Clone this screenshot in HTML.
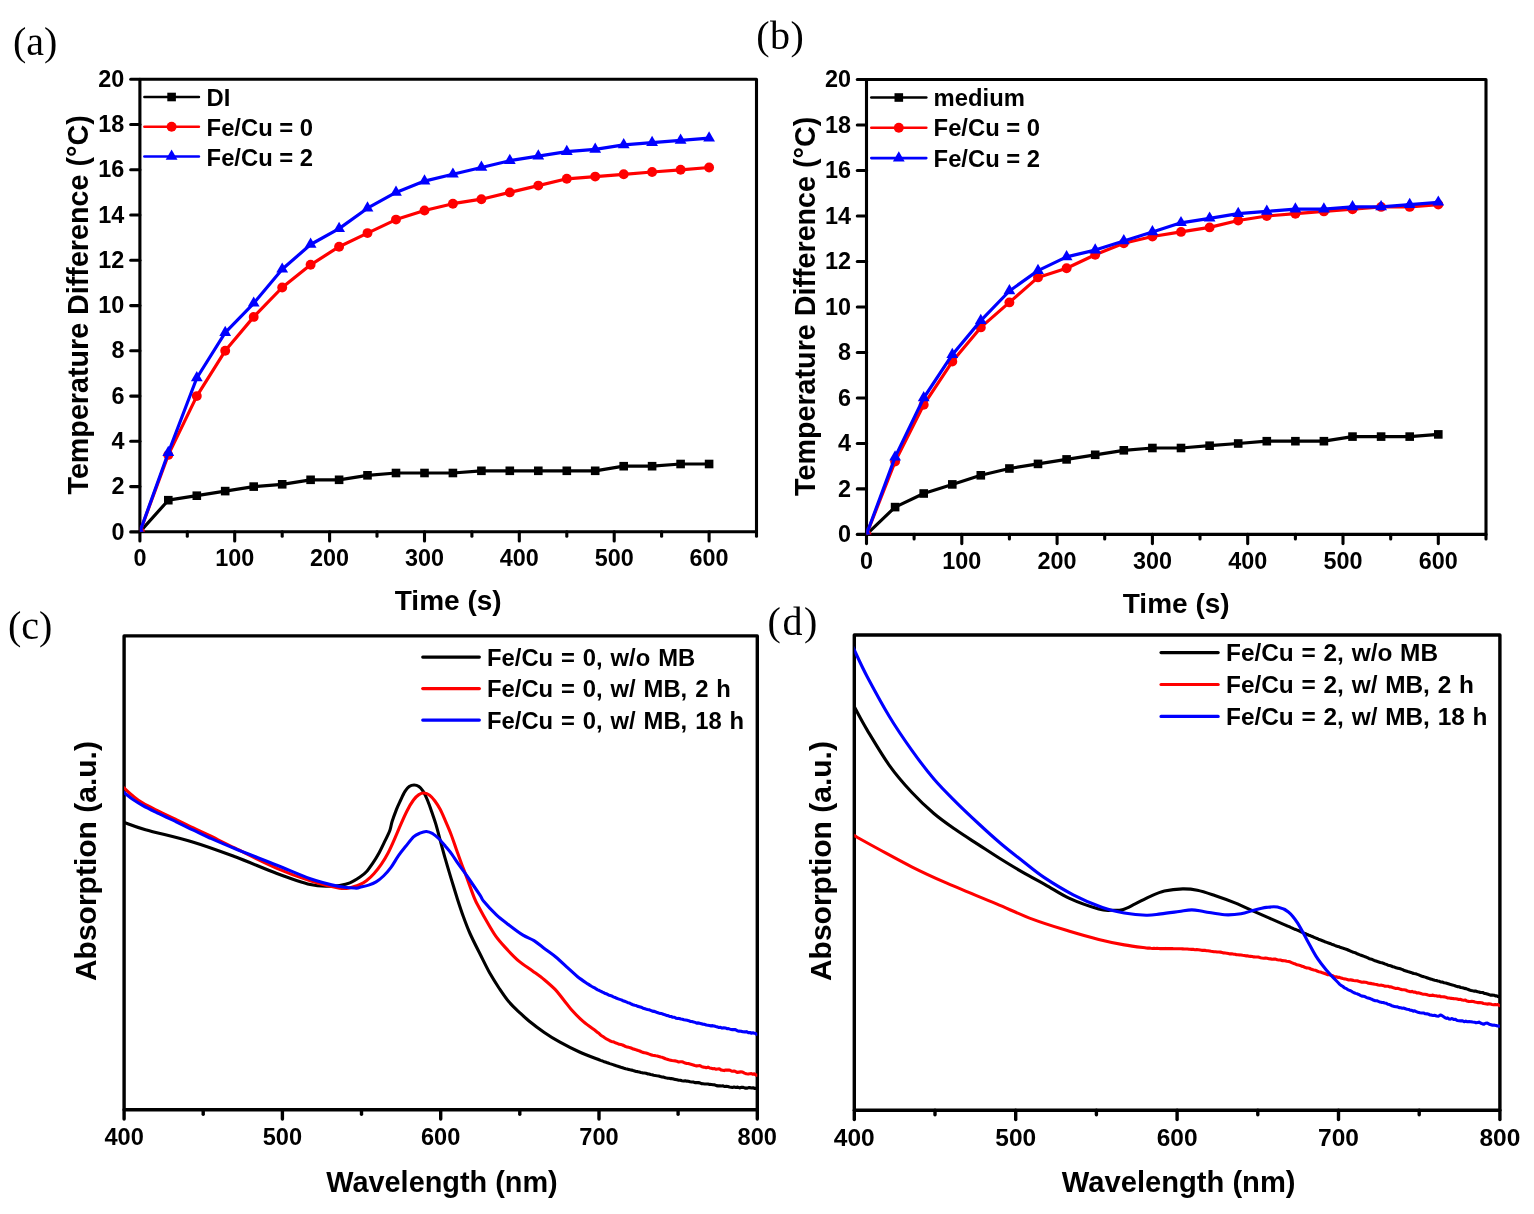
<!DOCTYPE html>
<html lang="en"><head><meta charset="utf-8"><title>Figure</title>
<style>
html,body{margin:0;padding:0;background:#fff;}
svg{display:block;}
text{fill:#000;}
.t{stroke:#000;stroke-width:3.4;stroke-linecap:round;}
.ta{stroke:#000;stroke-width:3.1;stroke-linecap:round;}
.tk{font-family:"Liberation Sans", Arial, Helvetica, sans-serif;font-weight:700;font-size:23.4px;}
.tk2{font-family:"Liberation Sans", Arial, Helvetica, sans-serif;font-weight:700;font-size:23.6px;}
.lg{font-family:"Liberation Sans", Arial, Helvetica, sans-serif;font-weight:700;font-size:23.8px;}
.lg2{font-family:"Liberation Sans", Arial, Helvetica, sans-serif;font-weight:700;font-size:23.8px;word-spacing:1.3px;}
.lg3{font-family:"Liberation Sans", Arial, Helvetica, sans-serif;font-weight:700;font-size:24.4px;word-spacing:1.0px;}
.ax{font-family:"Liberation Sans", Arial, Helvetica, sans-serif;font-weight:700;font-size:28px;}
.ay{font-family:"Liberation Sans", Arial, Helvetica, sans-serif;font-weight:700;font-size:28.7px;}
.ax2{font-family:"Liberation Sans", Arial, Helvetica, sans-serif;font-weight:700;font-size:28.85px;}
.ax3{font-family:"Liberation Sans", Arial, Helvetica, sans-serif;font-weight:700;font-size:29.15px;}
.ay2{font-family:"Liberation Sans", Arial, Helvetica, sans-serif;font-weight:700;font-size:30px;}
.tk3{font-family:"Liberation Sans", Arial, Helvetica, sans-serif;font-weight:700;font-size:24.5px;}
.pl{font-family:"Liberation Serif", "Times New Roman", serif;font-size:40px;}
</style></head><body>
<svg width="1534" height="1214" viewBox="0 0 1534 1214">
<rect width="1534" height="1214" fill="#fff"/>
<g>
<rect x="139.9" y="79.2" width="616.6" height="452.6" fill="none" stroke="#000" stroke-width="3.1" stroke-linejoin="round"/>
<line x1="130.7" y1="531.9" x2="139.9" y2="531.9" class="ta"/>
<text x="124.4" y="539.5" text-anchor="end" class="tk">0</text>
<line x1="130.7" y1="486.6" x2="139.9" y2="486.6" class="ta"/>
<text x="124.4" y="494.2" text-anchor="end" class="tk">2</text>
<line x1="130.7" y1="441.3" x2="139.9" y2="441.3" class="ta"/>
<text x="124.4" y="448.9" text-anchor="end" class="tk">4</text>
<line x1="130.7" y1="396.1" x2="139.9" y2="396.1" class="ta"/>
<text x="124.4" y="403.7" text-anchor="end" class="tk">6</text>
<line x1="130.7" y1="350.8" x2="139.9" y2="350.8" class="ta"/>
<text x="124.4" y="358.4" text-anchor="end" class="tk">8</text>
<line x1="130.7" y1="305.6" x2="139.9" y2="305.6" class="ta"/>
<text x="124.4" y="313.2" text-anchor="end" class="tk">10</text>
<line x1="130.7" y1="260.3" x2="139.9" y2="260.3" class="ta"/>
<text x="124.4" y="267.9" text-anchor="end" class="tk">12</text>
<line x1="130.7" y1="215" x2="139.9" y2="215" class="ta"/>
<text x="124.4" y="222.6" text-anchor="end" class="tk">14</text>
<line x1="130.7" y1="169.8" x2="139.9" y2="169.8" class="ta"/>
<text x="124.4" y="177.4" text-anchor="end" class="tk">16</text>
<line x1="130.7" y1="124.5" x2="139.9" y2="124.5" class="ta"/>
<text x="124.4" y="132.1" text-anchor="end" class="tk">18</text>
<line x1="130.7" y1="79.2" x2="139.9" y2="79.2" class="ta"/>
<text x="124.4" y="86.8" text-anchor="end" class="tk">20</text>
<line x1="139.9" y1="531.9" x2="139.9" y2="541" class="ta"/>
<text x="139.9" y="566.1" text-anchor="middle" class="tk">0</text>
<line x1="187.3" y1="531.9" x2="187.3" y2="536.3" class="ta"/>
<line x1="234.7" y1="531.9" x2="234.7" y2="541" class="ta"/>
<text x="234.7" y="566.1" text-anchor="middle" class="tk">100</text>
<line x1="282.2" y1="531.9" x2="282.2" y2="536.3" class="ta"/>
<line x1="329.6" y1="531.9" x2="329.6" y2="541" class="ta"/>
<text x="329.6" y="566.1" text-anchor="middle" class="tk">200</text>
<line x1="377" y1="531.9" x2="377" y2="536.3" class="ta"/>
<line x1="424.5" y1="531.9" x2="424.5" y2="541" class="ta"/>
<text x="424.5" y="566.1" text-anchor="middle" class="tk">300</text>
<line x1="471.9" y1="531.9" x2="471.9" y2="536.3" class="ta"/>
<line x1="519.3" y1="531.9" x2="519.3" y2="541" class="ta"/>
<text x="519.3" y="566.1" text-anchor="middle" class="tk">400</text>
<line x1="566.8" y1="531.9" x2="566.8" y2="536.3" class="ta"/>
<line x1="614.2" y1="531.9" x2="614.2" y2="541" class="ta"/>
<text x="614.2" y="566.1" text-anchor="middle" class="tk">500</text>
<line x1="661.6" y1="531.9" x2="661.6" y2="536.3" class="ta"/>
<line x1="709.1" y1="531.9" x2="709.1" y2="541" class="ta"/>
<text x="709.1" y="566.1" text-anchor="middle" class="tk">600</text>
<line x1="756.5" y1="531.9" x2="756.5" y2="536.3" class="ta"/>
<clipPath id="ca"><rect x="139.9" y="79.2" width="616.6" height="452.6"/></clipPath>
<g clip-path="url(#ca)">
<polyline points="139.9,531.9 168.3,500.2 196.8,495.7 225.2,491.1 253.7,486.6 282.2,484.3 310.6,479.8 339.1,479.8 367.5,475.3 396,473 424.5,473 452.9,473 481.4,470.8 509.8,470.8 538.3,470.8 566.8,470.8 595.2,470.8 623.7,466.2 652.1,466.2 680.6,464 709.1,464" fill="none" stroke="#000000" stroke-width="3.2" stroke-linejoin="round" stroke-linecap="round"/>
<rect x="135.6" y="527.6" width="8.6" height="8.6" fill="#000000"/>
<rect x="164" y="495.9" width="8.6" height="8.6" fill="#000000"/>
<rect x="192.5" y="491.4" width="8.6" height="8.6" fill="#000000"/>
<rect x="220.9" y="486.8" width="8.6" height="8.6" fill="#000000"/>
<rect x="249.4" y="482.3" width="8.6" height="8.6" fill="#000000"/>
<rect x="277.9" y="480" width="8.6" height="8.6" fill="#000000"/>
<rect x="306.3" y="475.5" width="8.6" height="8.6" fill="#000000"/>
<rect x="334.8" y="475.5" width="8.6" height="8.6" fill="#000000"/>
<rect x="363.2" y="471" width="8.6" height="8.6" fill="#000000"/>
<rect x="391.7" y="468.7" width="8.6" height="8.6" fill="#000000"/>
<rect x="420.2" y="468.7" width="8.6" height="8.6" fill="#000000"/>
<rect x="448.6" y="468.7" width="8.6" height="8.6" fill="#000000"/>
<rect x="477.1" y="466.5" width="8.6" height="8.6" fill="#000000"/>
<rect x="505.5" y="466.5" width="8.6" height="8.6" fill="#000000"/>
<rect x="534" y="466.5" width="8.6" height="8.6" fill="#000000"/>
<rect x="562.5" y="466.5" width="8.6" height="8.6" fill="#000000"/>
<rect x="590.9" y="466.5" width="8.6" height="8.6" fill="#000000"/>
<rect x="619.4" y="461.9" width="8.6" height="8.6" fill="#000000"/>
<rect x="647.8" y="461.9" width="8.6" height="8.6" fill="#000000"/>
<rect x="676.3" y="459.7" width="8.6" height="8.6" fill="#000000"/>
<rect x="704.8" y="459.7" width="8.6" height="8.6" fill="#000000"/>
<polyline points="139.9,531.9 168.3,454.9 196.8,396.1 225.2,350.8 253.7,316.9 282.2,287.5 310.6,264.8 339.1,246.7 367.5,233.1 396,219.6 424.5,210.5 452.9,203.7 481.4,199.2 509.8,192.4 538.3,185.6 566.8,178.8 595.2,176.6 623.7,174.3 652.1,172 680.6,169.8 709.1,167.5" fill="none" stroke="#ff0000" stroke-width="3.2" stroke-linejoin="round" stroke-linecap="round"/>
<circle cx="139.9" cy="531.9" r="4.95" fill="#ff0000"/>
<circle cx="168.3" cy="454.9" r="4.95" fill="#ff0000"/>
<circle cx="196.8" cy="396.1" r="4.95" fill="#ff0000"/>
<circle cx="225.2" cy="350.8" r="4.95" fill="#ff0000"/>
<circle cx="253.7" cy="316.9" r="4.95" fill="#ff0000"/>
<circle cx="282.2" cy="287.5" r="4.95" fill="#ff0000"/>
<circle cx="310.6" cy="264.8" r="4.95" fill="#ff0000"/>
<circle cx="339.1" cy="246.7" r="4.95" fill="#ff0000"/>
<circle cx="367.5" cy="233.1" r="4.95" fill="#ff0000"/>
<circle cx="396" cy="219.6" r="4.95" fill="#ff0000"/>
<circle cx="424.5" cy="210.5" r="4.95" fill="#ff0000"/>
<circle cx="452.9" cy="203.7" r="4.95" fill="#ff0000"/>
<circle cx="481.4" cy="199.2" r="4.95" fill="#ff0000"/>
<circle cx="509.8" cy="192.4" r="4.95" fill="#ff0000"/>
<circle cx="538.3" cy="185.6" r="4.95" fill="#ff0000"/>
<circle cx="566.8" cy="178.8" r="4.95" fill="#ff0000"/>
<circle cx="595.2" cy="176.6" r="4.95" fill="#ff0000"/>
<circle cx="623.7" cy="174.3" r="4.95" fill="#ff0000"/>
<circle cx="652.1" cy="172" r="4.95" fill="#ff0000"/>
<circle cx="680.6" cy="169.8" r="4.95" fill="#ff0000"/>
<circle cx="709.1" cy="167.5" r="4.95" fill="#ff0000"/>
<polyline points="139.9,531.9 168.3,452.7 196.8,378 225.2,332.7 253.7,303.3 282.2,269.3 310.6,244.5 339.1,228.6 367.5,208.2 396,192.4 424.5,181.1 452.9,174.3 481.4,167.5 509.8,160.7 538.3,156.2 566.8,151.7 595.2,149.4 623.7,144.9 652.1,142.6 680.6,140.4 709.1,138.1" fill="none" stroke="#0000ff" stroke-width="3.2" stroke-linejoin="round" stroke-linecap="round"/>
<polygon points="139.9,525 134,535.2 145.8,535.2" fill="#0000ff"/>
<polygon points="168.3,445.8 162.4,456 174.2,456" fill="#0000ff"/>
<polygon points="196.8,371.1 190.9,381.3 202.7,381.3" fill="#0000ff"/>
<polygon points="225.2,325.8 219.3,336 231.1,336" fill="#0000ff"/>
<polygon points="253.7,296.4 247.8,306.6 259.6,306.6" fill="#0000ff"/>
<polygon points="282.2,262.4 276.3,272.6 288.1,272.6" fill="#0000ff"/>
<polygon points="310.6,237.6 304.7,247.8 316.5,247.8" fill="#0000ff"/>
<polygon points="339.1,221.7 333.2,231.9 345,231.9" fill="#0000ff"/>
<polygon points="367.5,201.3 361.6,211.5 373.4,211.5" fill="#0000ff"/>
<polygon points="396,185.5 390.1,195.7 401.9,195.7" fill="#0000ff"/>
<polygon points="424.5,174.2 418.6,184.4 430.4,184.4" fill="#0000ff"/>
<polygon points="452.9,167.4 447,177.6 458.8,177.6" fill="#0000ff"/>
<polygon points="481.4,160.6 475.5,170.8 487.3,170.8" fill="#0000ff"/>
<polygon points="509.8,153.8 503.9,164 515.7,164" fill="#0000ff"/>
<polygon points="538.3,149.3 532.4,159.5 544.2,159.5" fill="#0000ff"/>
<polygon points="566.8,144.8 560.9,155 572.7,155" fill="#0000ff"/>
<polygon points="595.2,142.5 589.3,152.7 601.1,152.7" fill="#0000ff"/>
<polygon points="623.7,138 617.8,148.2 629.6,148.2" fill="#0000ff"/>
<polygon points="652.1,135.7 646.2,145.9 658,145.9" fill="#0000ff"/>
<polygon points="680.6,133.5 674.7,143.7 686.5,143.7" fill="#0000ff"/>
<polygon points="709.1,131.2 703.2,141.4 715,141.4" fill="#0000ff"/>
</g>
<text x="448.2" y="610.3" text-anchor="middle" class="ax">Time (s)</text>
<text transform="translate(88.2,304.9) rotate(-90)" text-anchor="middle" class="ay">Temperature Difference (°C)</text>
<line x1="144.4" y1="97" x2="198.9" y2="97" stroke="#000000" stroke-width="2.6" stroke-linecap="round"/>
<rect x="167.3" y="92.7" width="8.6" height="8.6" fill="#000000"/>
<text x="206.6" y="106.2" class="lg">DI</text>
<line x1="144.4" y1="126.8" x2="198.9" y2="126.8" stroke="#ff0000" stroke-width="2.6" stroke-linecap="round"/>
<circle cx="171.6" cy="126.8" r="4.95" fill="#ff0000"/>
<text x="206.6" y="135.9" class="lg">Fe/Cu = 0</text>
<line x1="144.4" y1="156.5" x2="198.9" y2="156.5" stroke="#0000ff" stroke-width="2.6" stroke-linecap="round"/>
<polygon points="171.6,149.6 165.7,159.8 177.5,159.8" fill="#0000ff"/>
<text x="206.6" y="165.7" class="lg">Fe/Cu = 2</text>
</g>
<g>
<rect x="866.5" y="79.5" width="619.5" height="454.9" fill="none" stroke="#000" stroke-width="3.1" stroke-linejoin="round"/>
<line x1="857.3" y1="534.4" x2="866.5" y2="534.4" class="ta"/>
<text x="851" y="542" text-anchor="end" class="tk">0</text>
<line x1="857.3" y1="488.9" x2="866.5" y2="488.9" class="ta"/>
<text x="851" y="496.5" text-anchor="end" class="tk">2</text>
<line x1="857.3" y1="443.5" x2="866.5" y2="443.5" class="ta"/>
<text x="851" y="451.1" text-anchor="end" class="tk">4</text>
<line x1="857.3" y1="398" x2="866.5" y2="398" class="ta"/>
<text x="851" y="405.6" text-anchor="end" class="tk">6</text>
<line x1="857.3" y1="352.5" x2="866.5" y2="352.5" class="ta"/>
<text x="851" y="360.1" text-anchor="end" class="tk">8</text>
<line x1="857.3" y1="307" x2="866.5" y2="307" class="ta"/>
<text x="851" y="314.6" text-anchor="end" class="tk">10</text>
<line x1="857.3" y1="261.5" x2="866.5" y2="261.5" class="ta"/>
<text x="851" y="269.1" text-anchor="end" class="tk">12</text>
<line x1="857.3" y1="216" x2="866.5" y2="216" class="ta"/>
<text x="851" y="223.6" text-anchor="end" class="tk">14</text>
<line x1="857.3" y1="170.5" x2="866.5" y2="170.5" class="ta"/>
<text x="851" y="178.1" text-anchor="end" class="tk">16</text>
<line x1="857.3" y1="125" x2="866.5" y2="125" class="ta"/>
<text x="851" y="132.6" text-anchor="end" class="tk">18</text>
<line x1="857.3" y1="79.5" x2="866.5" y2="79.5" class="ta"/>
<text x="851" y="87.1" text-anchor="end" class="tk">20</text>
<line x1="866.5" y1="534.4" x2="866.5" y2="543.6" class="ta"/>
<text x="866.5" y="568.6" text-anchor="middle" class="tk">0</text>
<line x1="914.1" y1="534.4" x2="914.1" y2="538.9" class="ta"/>
<line x1="961.8" y1="534.4" x2="961.8" y2="543.6" class="ta"/>
<text x="961.8" y="568.6" text-anchor="middle" class="tk">100</text>
<line x1="1009.4" y1="534.4" x2="1009.4" y2="538.9" class="ta"/>
<line x1="1057.1" y1="534.4" x2="1057.1" y2="543.6" class="ta"/>
<text x="1057.1" y="568.6" text-anchor="middle" class="tk">200</text>
<line x1="1104.7" y1="534.4" x2="1104.7" y2="538.9" class="ta"/>
<line x1="1152.4" y1="534.4" x2="1152.4" y2="543.6" class="ta"/>
<text x="1152.4" y="568.6" text-anchor="middle" class="tk">300</text>
<line x1="1200" y1="534.4" x2="1200" y2="538.9" class="ta"/>
<line x1="1247.7" y1="534.4" x2="1247.7" y2="543.6" class="ta"/>
<text x="1247.7" y="568.6" text-anchor="middle" class="tk">400</text>
<line x1="1295.4" y1="534.4" x2="1295.4" y2="538.9" class="ta"/>
<line x1="1343" y1="534.4" x2="1343" y2="543.6" class="ta"/>
<text x="1343" y="568.6" text-anchor="middle" class="tk">500</text>
<line x1="1390.7" y1="534.4" x2="1390.7" y2="538.9" class="ta"/>
<line x1="1438.3" y1="534.4" x2="1438.3" y2="543.6" class="ta"/>
<text x="1438.3" y="568.6" text-anchor="middle" class="tk">600</text>
<line x1="1486" y1="534.4" x2="1486" y2="538.9" class="ta"/>
<clipPath id="cb"><rect x="866.5" y="79.5" width="619.5" height="454.9"/></clipPath>
<g clip-path="url(#cb)">
<polyline points="866.5,534.4 895.1,507.1 923.7,493.5 952.3,484.4 980.8,475.3 1009.4,468.5 1038,463.9 1066.6,459.4 1095.2,454.8 1123.8,450.3 1152.4,448 1181,448 1209.6,445.7 1238.2,443.5 1266.8,441.2 1295.4,441.2 1323.9,441.2 1352.5,436.6 1381.1,436.6 1409.7,436.6 1438.3,434.4" fill="none" stroke="#000000" stroke-width="3.2" stroke-linejoin="round" stroke-linecap="round"/>
<rect x="862.2" y="530.1" width="8.6" height="8.6" fill="#000000"/>
<rect x="890.8" y="502.8" width="8.6" height="8.6" fill="#000000"/>
<rect x="919.4" y="489.2" width="8.6" height="8.6" fill="#000000"/>
<rect x="948" y="480.1" width="8.6" height="8.6" fill="#000000"/>
<rect x="976.5" y="471" width="8.6" height="8.6" fill="#000000"/>
<rect x="1005.1" y="464.2" width="8.6" height="8.6" fill="#000000"/>
<rect x="1033.7" y="459.6" width="8.6" height="8.6" fill="#000000"/>
<rect x="1062.3" y="455.1" width="8.6" height="8.6" fill="#000000"/>
<rect x="1090.9" y="450.5" width="8.6" height="8.6" fill="#000000"/>
<rect x="1119.5" y="446" width="8.6" height="8.6" fill="#000000"/>
<rect x="1148.1" y="443.7" width="8.6" height="8.6" fill="#000000"/>
<rect x="1176.7" y="443.7" width="8.6" height="8.6" fill="#000000"/>
<rect x="1205.3" y="441.4" width="8.6" height="8.6" fill="#000000"/>
<rect x="1233.9" y="439.2" width="8.6" height="8.6" fill="#000000"/>
<rect x="1262.5" y="436.9" width="8.6" height="8.6" fill="#000000"/>
<rect x="1291.1" y="436.9" width="8.6" height="8.6" fill="#000000"/>
<rect x="1319.6" y="436.9" width="8.6" height="8.6" fill="#000000"/>
<rect x="1348.2" y="432.3" width="8.6" height="8.6" fill="#000000"/>
<rect x="1376.8" y="432.3" width="8.6" height="8.6" fill="#000000"/>
<rect x="1405.4" y="432.3" width="8.6" height="8.6" fill="#000000"/>
<rect x="1434" y="430.1" width="8.6" height="8.6" fill="#000000"/>
<polyline points="866.5,534.4 895.1,461.6 923.7,404.8 952.3,361.6 980.8,327.4 1009.4,302.4 1038,277.4 1066.6,268.3 1095.2,254.7 1123.8,243.3 1152.4,236.5 1181,231.9 1209.6,227.4 1238.2,220.5 1266.8,216 1295.4,213.7 1323.9,211.4 1352.5,209.2 1381.1,206.9 1409.7,206.9 1438.3,204.6" fill="none" stroke="#ff0000" stroke-width="3.2" stroke-linejoin="round" stroke-linecap="round"/>
<circle cx="866.5" cy="534.4" r="4.95" fill="#ff0000"/>
<circle cx="895.1" cy="461.6" r="4.95" fill="#ff0000"/>
<circle cx="923.7" cy="404.8" r="4.95" fill="#ff0000"/>
<circle cx="952.3" cy="361.6" r="4.95" fill="#ff0000"/>
<circle cx="980.8" cy="327.4" r="4.95" fill="#ff0000"/>
<circle cx="1009.4" cy="302.4" r="4.95" fill="#ff0000"/>
<circle cx="1038" cy="277.4" r="4.95" fill="#ff0000"/>
<circle cx="1066.6" cy="268.3" r="4.95" fill="#ff0000"/>
<circle cx="1095.2" cy="254.7" r="4.95" fill="#ff0000"/>
<circle cx="1123.8" cy="243.3" r="4.95" fill="#ff0000"/>
<circle cx="1152.4" cy="236.5" r="4.95" fill="#ff0000"/>
<circle cx="1181" cy="231.9" r="4.95" fill="#ff0000"/>
<circle cx="1209.6" cy="227.4" r="4.95" fill="#ff0000"/>
<circle cx="1238.2" cy="220.5" r="4.95" fill="#ff0000"/>
<circle cx="1266.8" cy="216" r="4.95" fill="#ff0000"/>
<circle cx="1295.4" cy="213.7" r="4.95" fill="#ff0000"/>
<circle cx="1323.9" cy="211.4" r="4.95" fill="#ff0000"/>
<circle cx="1352.5" cy="209.2" r="4.95" fill="#ff0000"/>
<circle cx="1381.1" cy="206.9" r="4.95" fill="#ff0000"/>
<circle cx="1409.7" cy="206.9" r="4.95" fill="#ff0000"/>
<circle cx="1438.3" cy="204.6" r="4.95" fill="#ff0000"/>
<polyline points="866.5,534.4 895.1,457.1 923.7,398 952.3,354.7 980.8,320.6 1009.4,291 1038,270.6 1066.6,256.9 1095.2,250.1 1123.8,241 1152.4,231.9 1181,222.8 1209.6,218.3 1238.2,213.7 1266.8,211.4 1295.4,209.2 1323.9,209.2 1352.5,206.9 1381.1,206.9 1409.7,204.6 1438.3,202.3" fill="none" stroke="#0000ff" stroke-width="3.2" stroke-linejoin="round" stroke-linecap="round"/>
<polygon points="866.5,527.5 860.6,537.7 872.4,537.7" fill="#0000ff"/>
<polygon points="895.1,450.2 889.2,460.4 901,460.4" fill="#0000ff"/>
<polygon points="923.7,391.1 917.8,401.3 929.6,401.3" fill="#0000ff"/>
<polygon points="952.3,347.8 946.4,358 958.2,358" fill="#0000ff"/>
<polygon points="980.8,313.7 974.9,323.9 986.7,323.9" fill="#0000ff"/>
<polygon points="1009.4,284.1 1003.5,294.3 1015.3,294.3" fill="#0000ff"/>
<polygon points="1038,263.7 1032.1,273.9 1043.9,273.9" fill="#0000ff"/>
<polygon points="1066.6,250 1060.7,260.2 1072.5,260.2" fill="#0000ff"/>
<polygon points="1095.2,243.2 1089.3,253.4 1101.1,253.4" fill="#0000ff"/>
<polygon points="1123.8,234.1 1117.9,244.3 1129.7,244.3" fill="#0000ff"/>
<polygon points="1152.4,225 1146.5,235.2 1158.3,235.2" fill="#0000ff"/>
<polygon points="1181,215.9 1175.1,226.1 1186.9,226.1" fill="#0000ff"/>
<polygon points="1209.6,211.4 1203.7,221.6 1215.5,221.6" fill="#0000ff"/>
<polygon points="1238.2,206.8 1232.3,217 1244.1,217" fill="#0000ff"/>
<polygon points="1266.8,204.5 1260.9,214.7 1272.7,214.7" fill="#0000ff"/>
<polygon points="1295.4,202.3 1289.5,212.5 1301.3,212.5" fill="#0000ff"/>
<polygon points="1323.9,202.3 1318,212.5 1329.8,212.5" fill="#0000ff"/>
<polygon points="1352.5,200 1346.6,210.2 1358.4,210.2" fill="#0000ff"/>
<polygon points="1381.1,200 1375.2,210.2 1387,210.2" fill="#0000ff"/>
<polygon points="1409.7,197.7 1403.8,207.9 1415.6,207.9" fill="#0000ff"/>
<polygon points="1438.3,195.4 1432.4,205.6 1444.2,205.6" fill="#0000ff"/>
</g>
<text x="1176.2" y="612.8" text-anchor="middle" class="ax">Time (s)</text>
<text transform="translate(815,306.3) rotate(-90)" text-anchor="middle" class="ay">Temperature Difference (°C)</text>
<line x1="871.3" y1="97.5" x2="926.3" y2="97.5" stroke="#000000" stroke-width="2.6" stroke-linecap="round"/>
<rect x="894.5" y="93.2" width="8.6" height="8.6" fill="#000000"/>
<text x="933.6" y="106" class="lg">medium</text>
<line x1="871.3" y1="127.8" x2="926.3" y2="127.8" stroke="#ff0000" stroke-width="2.6" stroke-linecap="round"/>
<circle cx="898.8" cy="127.8" r="4.95" fill="#ff0000"/>
<text x="933.6" y="136.2" class="lg">Fe/Cu = 0</text>
<line x1="871.3" y1="158.1" x2="926.3" y2="158.1" stroke="#0000ff" stroke-width="2.6" stroke-linecap="round"/>
<polygon points="898.8,151.2 892.9,161.4 904.7,161.4" fill="#0000ff"/>
<text x="933.6" y="166.6" class="lg">Fe/Cu = 2</text>
</g>
<g>
<rect x="124.1" y="635.9" width="633.2" height="473.8" fill="none" stroke="#000" stroke-width="3.4" stroke-linejoin="round"/>
<clipPath id="cc"><rect x="124.1" y="635.9" width="633.2" height="473.8"/></clipPath>
<g clip-path="url(#cc)">
<path d="M121.2,821.4C121.7,821.5 120.2,821 124.2,822.4C128.2,823.8 134,826.4 145.5,829.7C157,833 178.5,837.7 193.4,842.2C208.3,846.7 221.3,851.6 235.2,856.8C249.1,862 264.4,868.9 276.9,873.5C289.4,878.1 301.6,882.5 310.3,884.6C319,886.7 324.1,886.1 329,886.3C333.9,886.4 336,886.1 339.5,885.5C343,884.9 346.5,884.3 349.9,882.9C353.3,881.5 357.2,878.9 360,877C362.8,875.1 364.3,874 366.4,871.7C368.5,869.4 370.6,866.3 372.8,863.1C375,859.9 377.3,856 379.3,852.4C381.3,848.8 382.8,845.5 384.6,841.7C386.4,838 388.8,833.3 390,829.9C391.2,826.5 391,824.9 392.1,821.5C393.2,818.1 395,813.2 396.4,809.6C397.8,806 399.3,803 400.7,800C402.1,797 403.6,793.6 405,791.4C406.4,789.2 407.7,787.7 409.2,786.6C410.7,785.5 412.5,785 414.1,785C415.7,785 417.4,785.5 418.9,786.6C420.4,787.7 421.8,789.2 423.2,791.4C424.6,793.6 426,796.6 427.4,800C428.8,803.4 430.3,807.6 431.7,811.7C433.1,815.8 434.6,819.8 436,824.6C437.4,829.4 438.7,834.7 440.3,840.6C441.9,846.5 443.8,853.6 445.6,859.9C447.4,866.1 449,871.6 451,878.1C453,884.6 455.3,892.4 457.4,898.9C459.5,905.4 461.4,911.2 463.5,917C465.6,922.8 467.3,927.4 470,933.5C472.7,939.6 476.5,947 479.8,953.5C483.1,960 486.4,967 489.6,972.8C492.9,978.6 496.1,983.6 499.3,988.5C502.6,993.4 505.8,998.2 509.1,1002.1C512.4,1006 515.6,1008.8 518.9,1011.9C522.2,1015 524.5,1017.3 528.7,1020.7C532.9,1024.1 539.1,1028.9 544.3,1032.5C549.5,1036.1 554.1,1039 560,1042.2C565.9,1045.5 573,1049.1 579.5,1052C586,1054.9 595.8,1058.5 599.1,1059.8L600.5,1060.35L602,1060.84L603.5,1061.43L605.1,1061.89L606.6,1062.49L608.2,1063.05L609.8,1063.62L611.4,1064.13L613,1064.63L614.6,1065.17L616.2,1065.8L617.8,1066.2L619.3,1066.68L620.9,1067.25L622.5,1067.78L624.1,1068.31L625.6,1068.72L627.1,1069.03L628.6,1069.42L630.1,1069.83L631.6,1070.1L633.1,1070.58L634.6,1071L636.2,1071.47L637.7,1071.65L639.3,1071.98L640.9,1072.44L642.6,1072.85L644.3,1073.03L646,1073.28L647.5,1073.86L649,1073.99L650.6,1074.47L652.1,1074.72L653.7,1075.15L655.4,1075.51L657,1075.81L658.7,1076.03L660.3,1076.54L662,1076.98L663.7,1077.15L665.4,1077.75L667.1,1078.1L668.8,1078.21L670.4,1078.61L672.1,1078.65L673.8,1079.11L675.4,1079.43L677,1079.81L678.7,1080.24L680.3,1080.28L681.9,1080.72L683.5,1080.93L685.2,1080.81L686.8,1081.15L688.4,1081.26L690.1,1081.75L691.7,1081.95L693.3,1082.04L694.9,1082.65L696.6,1082.53L698.2,1082.64L699.8,1082.9L701.4,1083.62L703.1,1083.77L704.7,1083.92L706.3,1084.04L708,1084.01L709.7,1084.4L711.3,1084.57L713,1084.81L714.7,1084.83L716.4,1085.6L718.1,1085.88L719.8,1085.82L721.4,1086.03L723.1,1085.78L724.7,1086.56L726.4,1086.29L727.9,1086.45L729.5,1086.94L731,1087.18L732.5,1087.44L734,1087.05L735.9,1087.47L737.7,1087.12L739.6,1087.9L741.5,1087.36L743.3,1087.34L745.1,1088.14L746.9,1088.17L748.6,1087.61L750.2,1087.64L751.7,1088.05L753.1,1087.76L754.4,1088.41L755.5,1088.2L756.5,1088.57L759.4,1088.46L759.5,1088.04" fill="none" stroke="#000000" stroke-width="3.1" stroke-linejoin="round"/>
<path d="M121.2,785.5C121.7,786 122.2,786.5 124.2,788.2C126.2,789.9 129.9,793.5 133,796C136.1,798.5 138.6,800.6 142.9,803.2C147.2,805.8 153.5,808.7 159,811.4C164.5,814.1 170.2,816.7 175.9,819.5C181.6,822.3 187.9,825.4 193.4,828C198.9,830.6 201.8,831.8 208.8,835.2C215.8,838.6 223.8,842.7 235.2,848.2C246.5,853.7 264.4,862.9 276.9,868.3C289.4,873.7 299.9,877.5 310.3,880.8C320.7,884.1 332.9,887 339.5,888.1C346.1,889.2 346.5,888.3 349.9,887.7C353.3,887.1 357.2,885.6 360,884.5C362.8,883.4 364.1,882.6 366.4,880.8C368.7,879 371.4,876.6 373.9,873.8C376.4,871 379.1,867.6 381.4,864.2C383.7,860.8 385.6,857.6 387.8,853.5C390,849.4 392.2,844.4 394.3,839.6C396.4,834.8 398.6,829.4 400.7,824.6C402.8,819.8 405,814.8 407.1,810.7C409.2,806.6 411.5,802.7 413.5,800C415.5,797.3 417.1,795.8 418.9,794.6C420.7,793.4 422.4,792.9 424.2,793C426,793.1 427.8,793.9 429.6,795.2C431.4,796.5 433.1,798.6 434.9,801C436.7,803.4 438.5,806.2 440.3,809.6C442.1,813 443.8,817.3 445.6,821.4C447.4,825.5 449.2,829.6 451,834.2C452.8,838.8 454.5,844.2 456.3,849.2C458.1,854.2 459.9,859.4 461.7,864.2C463.5,869 464.9,872.4 467,878.1C469.1,883.8 472.5,893.5 474.5,898.4C476.5,903.3 477.1,903.8 479.2,907.7C481.3,911.6 484.3,917.1 487,921.8C489.7,926.4 492.4,931.3 495.4,935.6C498.4,939.9 501.3,943.1 505.2,947.4C509.1,951.6 514.3,957.2 518.9,961.1C523.5,965 528.4,967.8 532.6,970.9C536.8,974 540.5,976.6 544.3,979.7C548,982.8 551.8,986 555.1,989.4C558.4,992.8 561.1,996.8 563.9,1000.2C566.7,1003.6 568.5,1006.4 571.7,1010C575,1013.6 579.5,1018.3 583.4,1021.7C587.3,1025.1 593.2,1029 595.2,1030.5L596.8,1031.87L598.4,1032.96L600,1034.48L601.6,1035.68L603.3,1036.84L605,1038.03L606.9,1039.22L608.3,1039.88L609.8,1040.73L611.3,1041.41L612.9,1041.84L614.5,1042.31L616.1,1043.04L617.7,1043.61L619.3,1044.3L620.9,1044.57L622.5,1044.99L624.1,1045.72L625.6,1046.55L627.1,1046.91L628.7,1047.35L630.2,1047.68L631.8,1048.26L633.3,1049.06L634.9,1049.39L636.6,1049.93L638.2,1050.51L639.7,1050.98L641.3,1051.72L642.8,1052.37L644.4,1052.74L646,1053.09L647.6,1053.59L649.2,1054.11L650.8,1054.69L652.5,1055.31L654.1,1055.49L655.8,1055.81L657.4,1055.97L659,1056.58L660.6,1057.07L662.2,1057.3L663.8,1058.02L665.5,1058.75L667.1,1059.17L668.8,1059.71L670.5,1060.14L672.1,1060.56L673.8,1060.74L675.4,1060.91L677,1061.33L678.7,1062.02L680.3,1061.71L681.9,1061.81L683.5,1062.34L685.1,1063.02L686.8,1063.53L688.4,1063.44L690,1064.08L691.6,1064.51L693.3,1065.01L694.9,1065.58L696.5,1065.91L698.2,1065.69L699.8,1065.63L701.4,1066.45L703.1,1067.11L704.7,1067.19L706.3,1067.74L708,1067.16L709.6,1067.93L711.2,1068.25L712.9,1068.77L714.5,1068.57L716.1,1069.2L717.7,1068.96L719.3,1068.78L720.9,1069.88L722.5,1070.18L724.1,1070.6L725.7,1070.09L727.3,1069.99L728.9,1070.08L730.6,1070.56L732.3,1071.32L734,1071.07L735.6,1071.58L737.2,1072.47L739,1072.11L740.8,1071.88L742.6,1072.04L744.5,1073.09L746.3,1073.81L748.1,1074.08L749.8,1073.84L751.4,1073.63L752.9,1074.32L754.3,1073.84L755.5,1074.72L756.5,1075.27L759.4,1074.97L759.5,1075.25" fill="none" stroke="#ff0000" stroke-width="3.1" stroke-linejoin="round"/>
<path d="M121.2,790.4C121.7,790.8 122.2,791.2 124.2,792.7C126.2,794.2 129.9,797.4 133,799.5C136.1,801.6 138.6,803.2 142.9,805.6C147.2,808 153.5,811 159,813.7C164.5,816.4 170.2,819 175.9,821.7C181.6,824.5 187.9,827.6 193.4,830.2C198.9,832.8 201.8,834.4 208.8,837.5C215.8,840.6 223.8,844.2 235.2,848.8C246.5,853.4 264.4,860.2 276.9,865.2C289.4,870.2 299.9,875.1 310.3,878.7C320.7,882.3 331.9,885 339.5,886.6C347.1,888.2 352.7,888 356.1,888.1C359.5,888.2 357.9,887.7 360,887.2C362.1,886.7 365.9,886 368.6,885.1C371.3,884.2 373.6,883.4 376.1,881.9C378.6,880.4 381,878.4 383.5,876C386,873.6 388.5,870.8 391,867.4C393.5,864 396,859.2 398.5,855.6C401,852 403.5,849.1 406,846C408.5,842.9 411.2,839 413.5,836.9C415.8,834.8 417.8,834.1 419.9,833.2C422,832.3 424.2,831.4 426.4,831.5C428.5,831.6 430.7,832.5 432.8,833.7C434.9,835 437.1,836.9 439.2,839C441.3,841.1 443.5,843.9 445.6,846.5C447.8,849.1 450,851.6 452.1,854.6C454.2,857.6 456,860.6 458.5,864.2C461,867.8 463.4,870.8 467,876C470.6,881.2 477.2,891 480,895.2C482.8,899.5 481.2,898.2 483.9,901.5C486.6,904.8 492.2,910.9 496.4,914.8C500.6,918.7 504.5,921.5 508.9,924.9C513.3,928.3 518.8,932.5 523,935.1C527.2,937.7 530.5,938.4 534,940.6C537.5,942.8 540.6,945.6 544.3,948.4C548,951.2 552.2,954 556.1,957.2C560,960.5 564.2,964.6 567.8,967.9C571.4,971.1 574.4,974.1 577.6,976.7C580.9,979.3 585.7,982.5 587.3,983.6L588.6,984.41L590,985.35L591.5,986.24L593,987.06L594.6,987.84L596.1,988.92L597.7,989.84L599.4,990.55L601,991.31L602.5,992.18L604,992.8L605.4,993.53L607,994.05L608.5,994.93L610.1,995.39L611.6,995.96L613.3,996.84L615,997.43L616.7,998.32L618.2,998.84L619.7,999.35L621.3,999.88L622.9,1000.73L624.6,1001.3L626.2,1001.89L627.9,1002.67L629.6,1003.06L631.2,1004L632.9,1004.75L634.6,1005.26L636.2,1005.56L637.8,1006.36L639.4,1006.68L641,1007.17L642.6,1007.97L644.2,1008.6L645.8,1009.06L647.4,1009.47L649,1009.82L650.6,1010.42L652.3,1011.14L654,1011.34L655.8,1011.94L657.2,1012.57L658.7,1013.04L660.2,1013.36L661.7,1013.55L663.3,1014.28L664.8,1014.7L666.4,1015.47L668,1015.64L669.6,1016.41L671.2,1016.49L672.8,1017.28L674.4,1017.22L676,1018.18L677.7,1018.42L679.3,1018.49L680.8,1019.03L682.4,1019.23L683.9,1019.7L685.5,1019.94L687.1,1020.27L688.7,1020.66L690.3,1021.49L691.9,1021.48L693.5,1021.91L695.1,1022.37L696.7,1023.1L698.3,1022.91L699.9,1023.36L701.5,1023.7L703.1,1024.31L704.7,1024.33L706.3,1025.01L707.9,1025.3L709.4,1025.57L711,1025.89L712.6,1025.65L714.2,1026.02L715.8,1026.53L717.3,1026.87L718.9,1027.47L720.5,1027.31L722.1,1028.1L723.7,1027.78L725.3,1027.96L726.9,1028.69L728.5,1028.64L730.1,1029.14L731.8,1029.59L733.5,1029.62L735.3,1029.62L737.2,1030.68L739.1,1031.15L741,1031.22L742.8,1031.81L744.7,1031.84L746.5,1031.67L748.3,1032.64L749.9,1032.45L751.5,1033.24L753,1032.84L754.3,1033.14L755.5,1033.5L756.5,1034.28L759.6,1034.12L759.5,1034.74" fill="none" stroke="#0000ff" stroke-width="3.1" stroke-linejoin="round"/>
</g>
<line x1="124.1" y1="1109.7" x2="124.1" y2="1119.1" class="t"/>
<text x="124.1" y="1145" text-anchor="middle" class="tk2">400</text>
<line x1="203.2" y1="1109.7" x2="203.2" y2="1114.2" class="t"/>
<line x1="282.4" y1="1109.7" x2="282.4" y2="1119.1" class="t"/>
<text x="282.4" y="1145" text-anchor="middle" class="tk2">500</text>
<line x1="361.5" y1="1109.7" x2="361.5" y2="1114.2" class="t"/>
<line x1="440.7" y1="1109.7" x2="440.7" y2="1119.1" class="t"/>
<text x="440.7" y="1145" text-anchor="middle" class="tk2">600</text>
<line x1="519.8" y1="1109.7" x2="519.8" y2="1114.2" class="t"/>
<line x1="599" y1="1109.7" x2="599" y2="1119.1" class="t"/>
<text x="599" y="1145" text-anchor="middle" class="tk2">700</text>
<line x1="678.1" y1="1109.7" x2="678.1" y2="1114.2" class="t"/>
<line x1="757.3" y1="1109.7" x2="757.3" y2="1119.1" class="t"/>
<text x="757.3" y="1145" text-anchor="middle" class="tk2">800</text>
<text x="442" y="1191.9" text-anchor="middle" class="ax2">Wavelength (nm)</text>
<text transform="translate(96.1,861.1) rotate(-90)" text-anchor="middle" class="ay2">Absorption (a.u.)</text>
<line x1="422.7" y1="657.1" x2="479.4" y2="657.1" stroke="#000000" stroke-width="3.1" stroke-linecap="round"/>
<text x="487" y="665.7" class="lg2">Fe/Cu = 0, w/o MB</text>
<line x1="422.7" y1="688.6" x2="479.4" y2="688.6" stroke="#ff0000" stroke-width="3.1" stroke-linecap="round"/>
<text x="487" y="697.2" class="lg2">Fe/Cu = 0, w/ MB, 2 h</text>
<line x1="422.7" y1="720.1" x2="479.4" y2="720.1" stroke="#0000ff" stroke-width="3.1" stroke-linecap="round"/>
<text x="487" y="728.7" class="lg2">Fe/Cu = 0, w/ MB, 18 h</text>
</g>
<g>
<rect x="854.3" y="635" width="645.6" height="475.2" fill="none" stroke="#000" stroke-width="3.4" stroke-linejoin="round"/>
<clipPath id="cd"><rect x="854.3" y="635" width="645.6" height="475.2"/></clipPath>
<g clip-path="url(#cd)">
<path d="M851.3,701.3C851.8,702.2 851.6,701.9 854.3,706.7C856.9,711.5 861.3,720.3 867.2,730.1C873.1,739.9 882.1,755.2 889.5,765.6C896.9,776 904.3,784.3 911.7,792.3C919.1,800.3 926.5,807.2 933.9,813.5C941.3,819.8 948.8,824.9 956.2,830.1C963.6,835.3 971,839.8 978.4,844.6C985.8,849.4 993.3,854.4 1000.7,859C1008.1,863.6 1015.5,868.1 1022.9,872.4C1030.3,876.7 1037.3,880.3 1045.1,884.6C1052.9,888.9 1060.6,894.3 1069.5,898.4C1078.4,902.5 1091.7,907 1098.7,909C1105.7,911 1107.5,910.2 1111.5,910.3C1115.5,910.4 1118.5,910.8 1122.4,909.7C1126.4,908.6 1130.6,906.1 1135.2,903.9C1139.8,901.7 1144.9,898.7 1149.8,896.6C1154.7,894.5 1158.9,892.4 1164.4,891.1C1169.9,889.8 1177.2,889 1182.7,888.9C1188.2,888.8 1191.8,889.1 1197.3,890.2C1202.8,891.3 1209.2,893.6 1215.5,895.7C1221.8,897.8 1228,900 1235,902.9C1242,905.8 1249.1,909.2 1257.4,912.9C1265.7,916.5 1280.2,922.8 1284.8,924.8L1286.2,925.48L1287.7,926.07L1289.2,926.68L1290.7,927.41L1292.3,928.1L1293.9,928.84L1295.5,929.43L1297.2,930.12L1298.9,930.8L1300.5,931.48L1302.2,932.29L1303.9,933.05L1305.6,933.77L1307.3,934.55L1308.9,935.2L1310.6,935.81L1312.2,936.48L1313.8,937.21L1315.4,937.83L1316.9,938.44L1318.4,939.16L1319.9,939.67L1321.3,940.24L1323.1,940.93L1324.9,941.71L1326.7,942.36L1328.4,942.94L1330,943.51L1331.6,944.2L1333.2,944.64L1334.7,945.39L1336.3,946L1337.8,946.39L1339.3,946.79L1340.8,947.52L1342.4,947.92L1343.9,948.62L1345.4,948.99L1347,949.49L1348.6,950.22L1350.2,950.96L1351.8,951.61L1353.3,952.21L1354.8,952.6L1356.4,953.27L1357.9,954.06L1359.4,954.66L1361,955.24L1362.5,955.79L1364.1,956.37L1365.7,956.95L1367.3,957.64L1368.9,958.47L1370.6,959.12L1372.4,959.59L1374.2,960.43L1376,961.02L1377.4,961.49L1378.8,961.95L1380.3,962.48L1381.8,962.78L1383.3,963.23L1384.9,963.93L1386.4,964.37L1388,965.15L1389.6,965.56L1391.2,965.97L1392.9,966.73L1394.5,967.1L1396.1,967.8L1397.8,968.21L1399.4,968.6L1401.1,969.08L1402.7,969.67L1404.4,970.53L1406,971.02L1407.7,971.51L1409.3,971.92L1410.9,972.41L1412.5,973.13L1414.1,973.52L1415.7,973.83L1417.3,974.37L1418.8,974.86L1420.4,975.55L1422,976.28L1423.6,976.63L1425.2,977.11L1426.8,977.72L1428.4,978.3L1430,978.87L1431.5,979.16L1433.1,979.82L1434.7,980.22L1436.3,980.56L1437.9,981L1439.5,981.36L1441.1,982.07L1442.7,982.12L1444.2,982.82L1445.8,982.97L1447.4,983.42L1449,983.93L1450.6,984.6L1452.3,984.94L1453.9,985.38L1455.6,986.05L1457.3,986.64L1459.1,986.76L1460.8,987.53L1462.6,987.7L1464.3,988.37L1466.1,988.63L1467.8,989.33L1469.5,989.93L1471.2,990.43L1472.8,990.8L1474.4,991.13L1476,991.09L1477.6,991.82L1479,991.93L1480.5,992.51L1481.8,992.54L1483.1,992.66L1484.4,993.46L1485.5,993.52L1488.1,994.31L1490.4,995.15L1492.3,995.04L1494,995.18L1495.4,995.88L1496.7,995.74L1497.8,996.44L1498.8,996.76L1499.8,996.96L1502.2,996.93L1502.8,996.7" fill="none" stroke="#000000" stroke-width="3.1" stroke-linejoin="round"/>
<path d="M851.3,834C851.8,834.3 849.8,833.2 854.3,835.7C858.8,838.2 868.8,843.8 878.4,849C888,854.2 900.6,861.2 911.7,866.8C922.8,872.4 931,876.2 945.1,882.4C959.2,888.6 981.9,897.7 996.5,903.9C1011.1,910.1 1020.8,914.8 1033,919.4C1045.2,924 1058.5,927.9 1069.5,931.3C1080.5,934.6 1089.6,937.2 1098.7,939.5C1107.8,941.8 1116.4,943.5 1124.3,944.9C1132.2,946.3 1142.5,947.5 1146.2,948L1147.7,948.1L1149.3,948.08L1150.8,948.31L1152.4,948.47L1154,948.34L1155.6,948.45L1157.1,948.37L1158.7,948.47L1160.3,948.58L1161.9,948.56L1163.5,948.59L1165.1,948.42L1166.7,948.6L1168.3,948.64L1169.9,948.64L1171.5,948.56L1173.1,948.66L1174.7,948.69L1176.3,948.77L1177.9,948.74L1179.5,948.77L1181.1,948.78L1182.7,948.89L1184.2,949L1185.8,949.04L1187.4,948.99L1189,949.2L1190.5,949.33L1192.1,949.26L1193.6,949.4L1195.2,949.71L1196.8,949.61L1198.5,949.75L1200.1,950.05L1201.7,950.34L1203.2,950.3L1204.8,950.37L1206.4,950.78L1207.9,950.69L1209.5,950.96L1211,951.3L1212.5,951.48L1214,951.74L1215.5,951.8L1217.2,952.02L1218.9,951.96L1220.5,952.13L1222.1,952.49L1223.6,952.89L1225.2,953.04L1226.8,953.2L1228.4,953.49L1230,953.9L1231.6,953.87L1233.3,954.08L1235,954.21L1236.5,954.71L1238,954.69L1239.5,954.92L1241,954.95L1242.6,955.3L1244.1,955.51L1245.7,955.86L1247.3,955.86L1248.9,956.23L1250.6,956.34L1252.2,956.48L1253.9,956.9L1255.6,956.93L1257.4,957.07L1258.9,957.14L1260.5,957.67L1262.1,958L1263.7,958.19L1265.4,958.03L1267.1,958.3L1268.8,958.67L1270.5,958.89L1272.2,959.21L1273.9,959.07L1275.6,959.15L1277.3,959.79L1278.9,960.02L1280.5,960.05L1282,960.6L1283.4,960.67L1284.8,960.83L1286.8,961.28L1288.7,961.53L1290.5,962.05L1292.2,962.88L1293.9,963.54L1295.5,964.06L1297,964.7L1298.5,965.06L1300,965.42L1301.5,966.14L1303,966.45L1304.7,967.27L1306.3,967.85L1307.9,968.05L1309.3,968.26L1310.8,969L1312.3,969.55L1313.9,969.97L1315.7,970.36L1317.6,971.27L1318.9,971.66L1320.3,971.92L1321.7,972.52L1323.2,972.99L1324.7,973.53L1326.2,974.06L1327.8,974.68L1329.3,974.78L1331,975.17L1332.6,975.77L1334.3,976.57L1336,976.74L1337.7,977.33L1339.5,977.42L1341,978.08L1342.5,978.35L1344,978.86L1345.6,979.09L1347.2,979.46L1348.8,979.96L1350.4,979.76L1352,980.13L1353.7,980.51L1355.3,980.73L1357,980.71L1358.7,981.32L1360.3,981.79L1362,982.29L1363.6,982.04L1365.3,982.26L1366.9,982.61L1368.5,983.25L1370.1,983.38L1371.7,983.65L1373.3,983.88L1375,984.32L1376.6,984.44L1378.2,984.95L1379.8,985.2L1381.4,985.13L1383,985.53L1384.6,986.11L1386.2,986.32L1387.9,986.19L1389.5,986.9L1391.1,986.81L1392.7,987.53L1394.3,988.08L1395.9,988.54L1397.5,988.34L1399.1,988.77L1400.7,989.36L1402.3,989.69L1403.9,989.77L1405.5,989.93L1407.1,990.81L1408.8,991.36L1410.4,991.81L1412,991.41L1413.6,992.14L1415.2,992.04L1416.8,992.96L1418.4,992.84L1420,993.22L1421.6,993.8L1423.2,994.19L1424.8,994.2L1426.4,994.54L1428,995.08L1429.7,995.4L1431.3,995.51L1432.9,995.13L1434.5,995.74L1436.1,995.73L1437.7,996.22L1439.3,995.97L1440.9,996.76L1442.6,996.8L1444.2,996.83L1445.8,997.19L1447.4,997.94L1449,998.01L1450.6,998.35L1452.2,998.42L1453.9,998.65L1455.5,998.77L1457.2,999.08L1458.8,999.57L1460.5,999.32L1462.1,1000.03L1463.8,1000.33L1465.4,1000.12L1467,1001.05L1468.6,1001.36L1470.2,1001.55L1471.8,1001.37L1473.4,1001.45L1474.9,1001.99L1476.4,1002.32L1478.1,1002.63L1479.9,1002.67L1481.7,1002.78L1483.5,1003.49L1485.3,1003.69L1487,1004.09L1488.8,1003.84L1490.5,1004.08L1492.1,1004.45L1493.7,1004.69L1495.1,1004.47L1496.5,1004.73L1497.7,1004.58L1498.8,1005.18L1499.8,1005.71L1502.8,1005.65L1502.8,1005.49" fill="none" stroke="#ff0000" stroke-width="3.1" stroke-linejoin="round"/>
<path d="M851.3,643.8C851.8,644.8 851.6,644.5 854.3,650C856.9,655.5 861.3,665.6 867.2,676.7C873.1,687.8 882.1,704.5 889.5,716.7C896.9,728.9 904.3,739.7 911.7,750.1C919.1,760.5 926.5,770.3 933.9,779C941.3,787.7 948.8,794.9 956.2,802.3C963.6,809.7 971,816.6 978.4,823.5C985.8,830.4 993.3,837.2 1000.7,843.5C1008.1,849.8 1015.7,855.6 1022.9,861.3C1030.1,866.9 1035.6,871.8 1044,877.4C1052.4,883 1063.5,889.8 1073.2,894.8C1082.9,899.8 1093.9,904.5 1102.4,907.5C1110.9,910.5 1117,911.7 1124.3,913C1131.6,914.3 1140.1,915.1 1146.2,915.2C1152.3,915.4 1155.3,914.5 1160.8,913.9C1166.3,913.3 1173.8,912.2 1179,911.5C1184.2,910.8 1187.5,909.9 1191.8,909.9C1196.1,909.9 1199.1,910.9 1204.6,911.7C1210.1,912.5 1218.5,914.4 1224.6,914.8C1230.7,915.1 1236.2,914.6 1241,913.8C1245.8,913 1249.5,911.3 1253.7,910.2C1258,909.1 1262.5,907.9 1266.5,907.4C1270.5,906.9 1273.8,906.3 1277.5,907.1C1281.2,907.9 1285.1,909.4 1288.4,912C1291.7,914.6 1294.5,918.3 1297.5,922.9C1300.5,927.5 1303.7,933.9 1306.7,939.4C1309.8,944.9 1312.5,950.6 1315.8,955.8C1319.1,961 1322.8,965.7 1326.7,970.4C1330.7,975.1 1337.4,981.8 1339.5,984.1L1341,985.34L1342.6,986.27L1344.1,987.53L1345.7,988.3L1347.3,989.31L1348.9,990.1L1350.6,990.72L1352.3,991.78L1354.1,992.75L1355.6,993.38L1357.2,993.85L1358.7,994.48L1360.3,995.3L1362,996.11L1363.6,996.32L1365.3,996.79L1367,997.76L1368.8,998.14L1370.6,998.82L1372.4,999.55L1373.9,1000.33L1375.3,1000.78L1376.9,1000.82L1378.4,1001.4L1380,1001.97L1381.5,1002.36L1383.1,1002.57L1384.7,1003.07L1386.3,1003.31L1387.9,1004.29L1389.5,1004.59L1391.1,1005.28L1392.7,1006.05L1394.3,1006.41L1395.9,1006.74L1397.5,1006.88L1399.1,1007.65L1400.7,1007.83L1402.3,1008.23L1403.9,1008.07L1405.5,1008.75L1407.1,1009.27L1408.7,1009.42L1410.2,1010.28L1411.8,1010.38L1413.3,1011.18L1414.7,1010.85L1416.2,1011.64L1418,1012.26L1419.9,1012.82L1421.7,1012.93L1423.5,1012.96L1425.3,1013.8L1427.1,1013.84L1428.7,1014.25L1430.3,1015.03L1431.8,1015.15L1433.2,1015.44L1434.4,1015.3L1436.6,1016.05L1438.3,1016.19L1439.6,1015.52L1440.6,1014.99L1441.7,1015.35L1442.6,1016.06L1445.4,1017.94L1446.4,1018.35L1447.6,1017.92L1449,1018.98L1450.4,1019.11L1452,1018.55L1453.7,1019.47L1455.4,1019.41L1457.2,1020.53L1459,1020.7L1460.8,1020.89L1462.5,1020.79L1464.2,1021.7L1465.8,1021.15L1467.3,1021.73L1469.1,1021.64L1470.9,1021.68L1472.6,1022.06L1474.4,1022.18L1476,1022.81L1477.7,1022.43L1479.3,1022.14L1480.9,1023.29L1482.5,1023.86L1484,1024.13L1485.5,1023.21L1487.3,1023.12L1489.2,1024.2L1491,1024.68L1492.7,1025.3L1494.4,1025.16L1496,1025.42L1497.5,1025.98L1498.7,1025.95L1499.8,1026.28L1502.2,1026.59L1502.8,1027.52" fill="none" stroke="#0000ff" stroke-width="3.1" stroke-linejoin="round"/>
</g>
<line x1="854.3" y1="1110.2" x2="854.3" y2="1119.6" class="t"/>
<text x="854.3" y="1145.5" text-anchor="middle" class="tk3">400</text>
<line x1="935" y1="1110.2" x2="935" y2="1114.7" class="t"/>
<line x1="1015.7" y1="1110.2" x2="1015.7" y2="1119.6" class="t"/>
<text x="1015.7" y="1145.5" text-anchor="middle" class="tk3">500</text>
<line x1="1096.4" y1="1110.2" x2="1096.4" y2="1114.7" class="t"/>
<line x1="1177.1" y1="1110.2" x2="1177.1" y2="1119.6" class="t"/>
<text x="1177.1" y="1145.5" text-anchor="middle" class="tk3">600</text>
<line x1="1257.8" y1="1110.2" x2="1257.8" y2="1114.7" class="t"/>
<line x1="1338.5" y1="1110.2" x2="1338.5" y2="1119.6" class="t"/>
<text x="1338.5" y="1145.5" text-anchor="middle" class="tk3">700</text>
<line x1="1419.2" y1="1110.2" x2="1419.2" y2="1114.7" class="t"/>
<line x1="1499.9" y1="1110.2" x2="1499.9" y2="1119.6" class="t"/>
<text x="1499.9" y="1145.5" text-anchor="middle" class="tk3">800</text>
<text x="1178.7" y="1191.9" text-anchor="middle" class="ax3">Wavelength (nm)</text>
<text transform="translate(831.2,861.1) rotate(-90)" text-anchor="middle" class="ay2">Absorption (a.u.)</text>
<line x1="1161" y1="652.6" x2="1218.2" y2="652.6" stroke="#000000" stroke-width="3.1" stroke-linecap="round"/>
<text x="1226" y="661.2" class="lg3">Fe/Cu = 2, w/o MB</text>
<line x1="1161" y1="684.5" x2="1218.2" y2="684.5" stroke="#ff0000" stroke-width="3.1" stroke-linecap="round"/>
<text x="1226" y="693.1" class="lg3">Fe/Cu = 2, w/ MB, 2 h</text>
<line x1="1161" y1="716.4" x2="1218.2" y2="716.4" stroke="#0000ff" stroke-width="3.1" stroke-linecap="round"/>
<text x="1226" y="725" class="lg3">Fe/Cu = 2, w/ MB, 18 h</text>
</g>
<text x="13" y="54.6" class="pl">(a)</text>
<text x="756.3" y="48.7" class="pl" style="letter-spacing:0.5px">(b)</text>
<text x="8" y="639.1" class="pl">(c)</text>
<text x="767.6" y="634.8" class="pl" style="letter-spacing:1.5px">(d)</text>
</svg></body></html>
